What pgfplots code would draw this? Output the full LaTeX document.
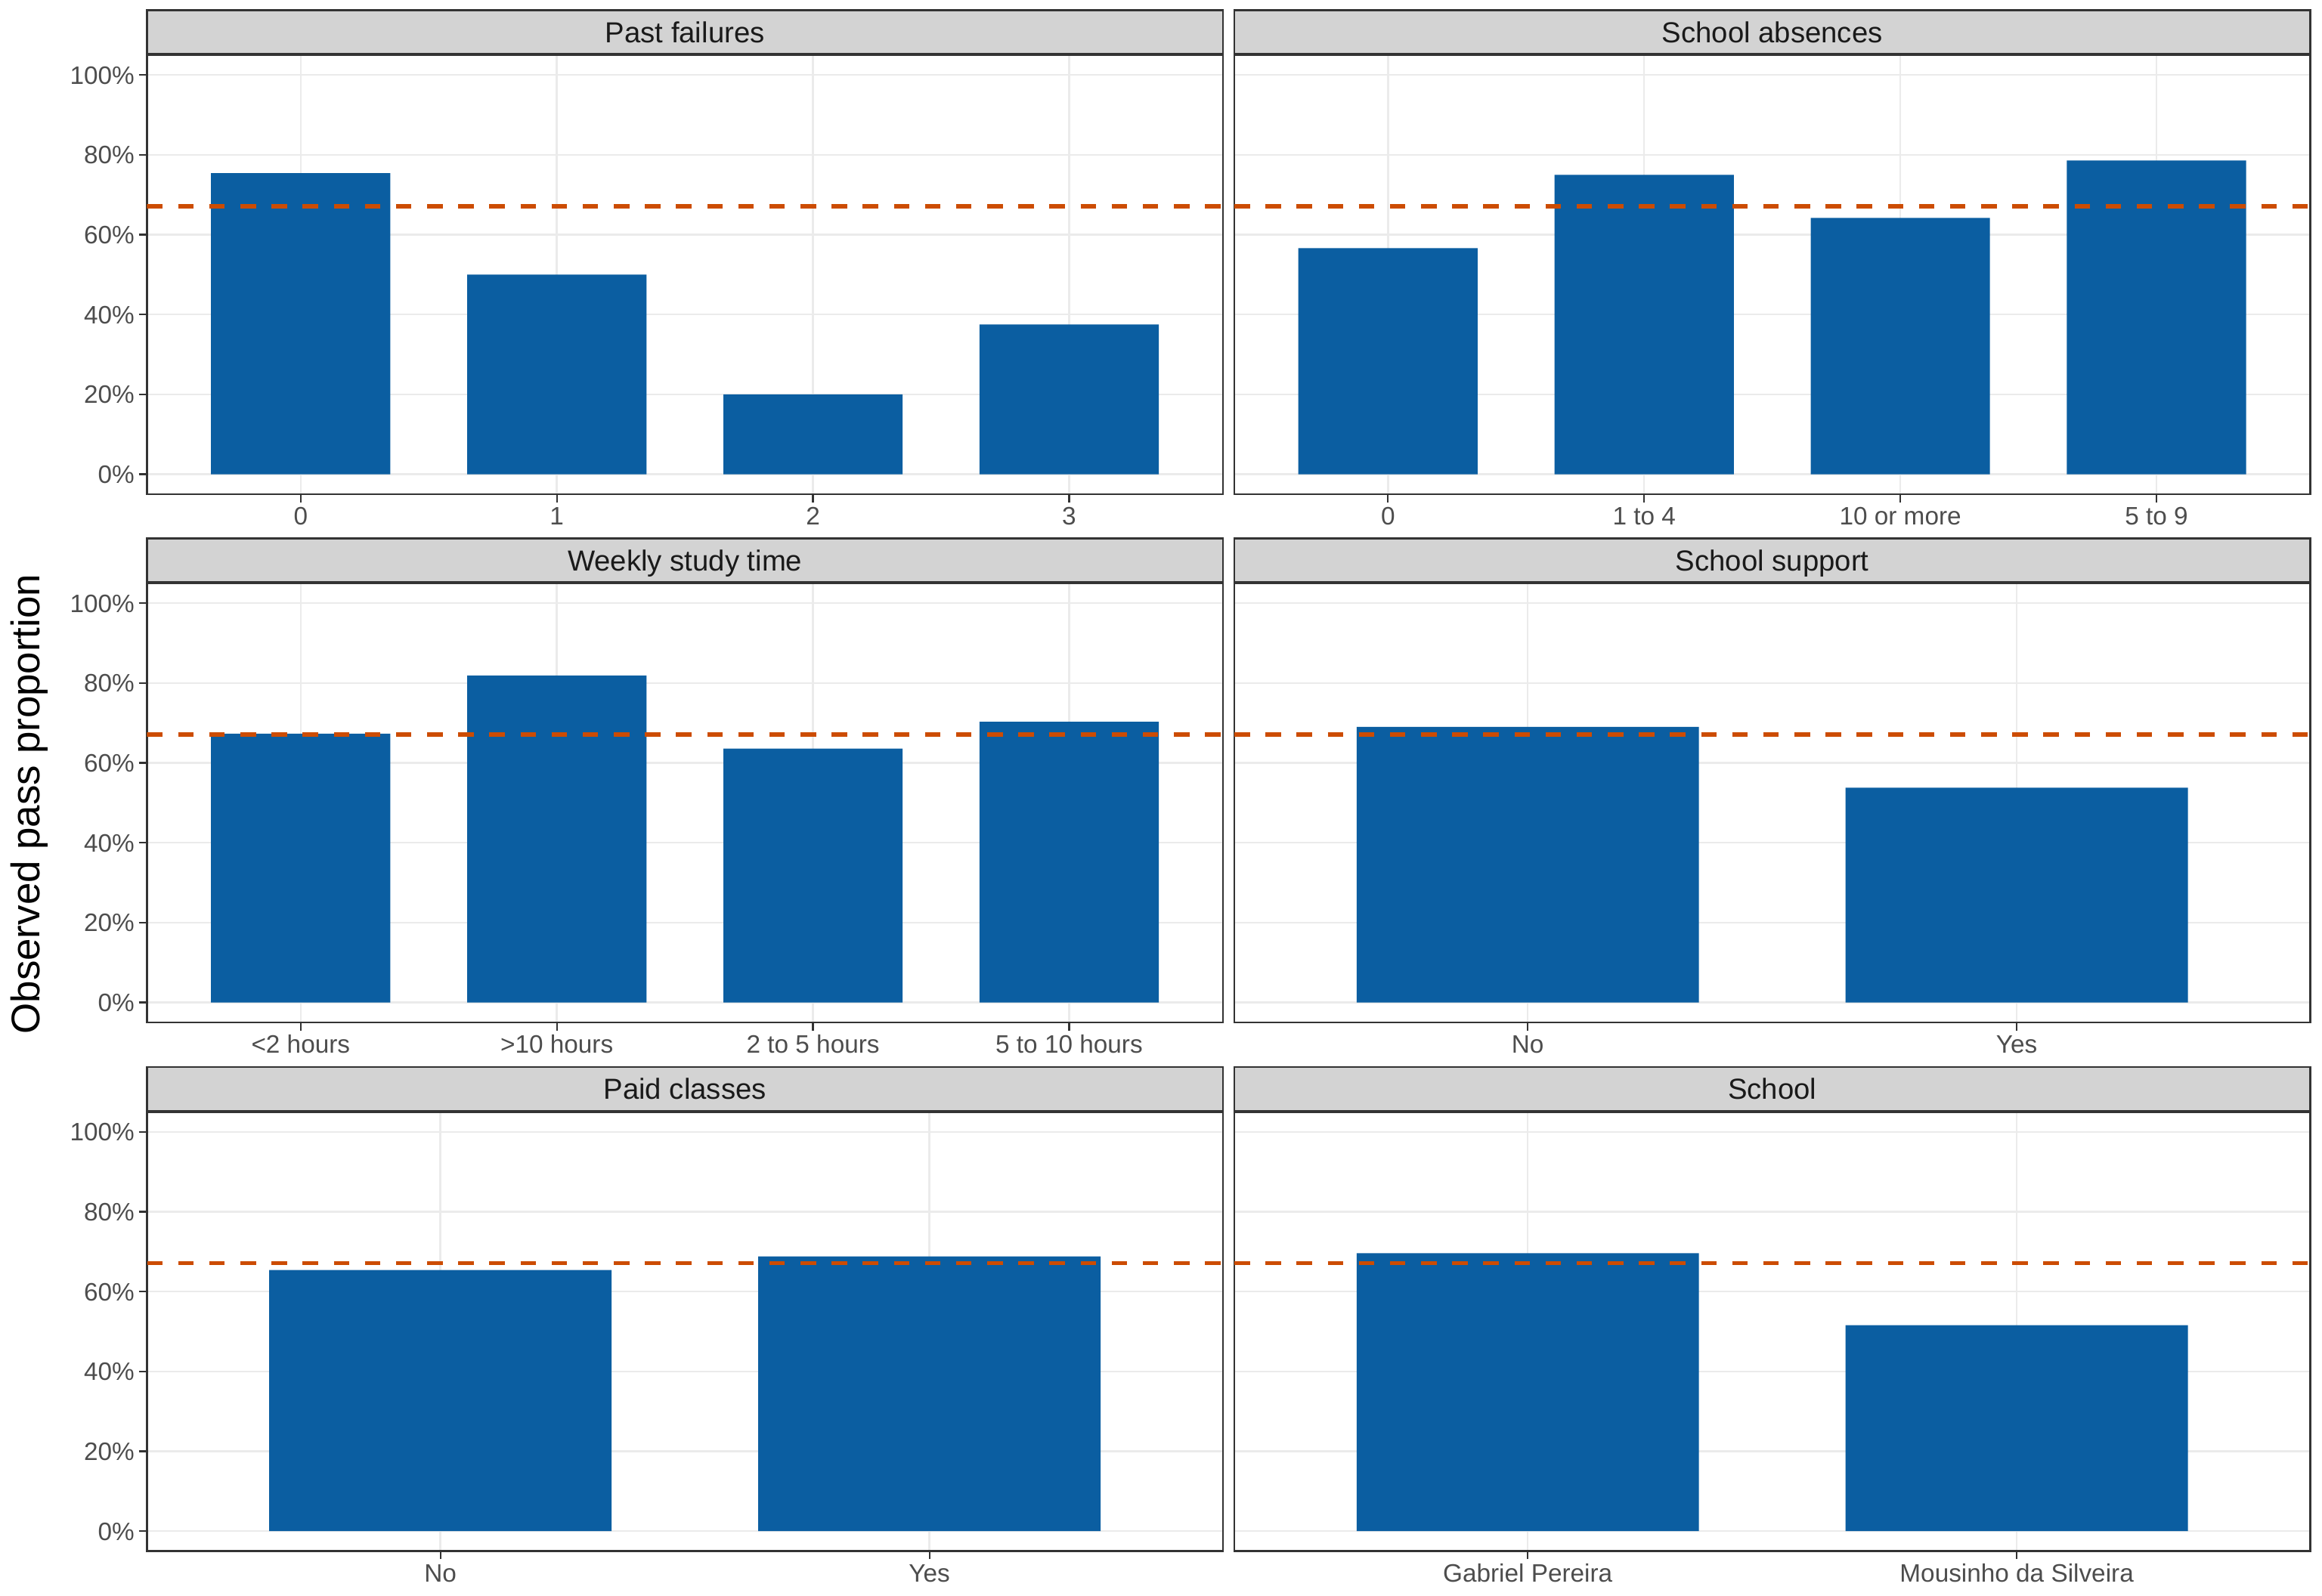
\documentclass[border=0pt]{standalone}
\usepackage{pgfplots}
\pgfplotsset{compat=1.18}
\usepackage{fontspec}
\setmainfont{Liberation Sans}
\definecolor{barblue}{HTML}{0B5EA1}
\definecolor{refline}{HTML}{CC4C02}
\definecolor{gridc}{HTML}{EBEBEB}
\definecolor{stripfill}{HTML}{D3D3D3}
\definecolor{frame}{HTML}{333333}
\definecolor{ticktext}{HTML}{4D4D4D}
\definecolor{striptext}{HTML}{1A1A1A}
\pgfplotsset{
  every axis title/.style={at={(0.5,1)}, anchor=south, fill=stripfill, draw=frame, line width=0.55bp,
      minimum width=341.6bp, minimum height=13.94bp, inner sep=0pt, text height=6.6bp, text depth=0pt,
      font=\fontsize{9.2bp}{11bp}\selectfont, text=striptext},
  facet/.style={
    scale only axis, width=341.6bp, height=139.49bp,
    ymin=-0.05, ymax=1.05, xmin=-0.6,
    ytick={0,0.2,0.4,0.6,0.8,1},
    yticklabels={0\%,20\%,40\%,60\%,80\%,100\%},
    grid=major,
    major grid style={draw=gridc, line width=0.6bp},
    axis line style={draw=frame, line width=0.55bp},
    tick style={draw=frame, line width=0.55bp},
    tick align=outside, tick pos=left,
    major tick length=2.6bp,
    tick label style={font=\fontsize{8bp}{9.6bp}\selectfont, text=ticktext, inner sep=0pt, text height=5.73bp, text depth=0pt},
    xticklabel style={yshift=-1.3bp},
    yticklabel style={xshift=-1.2bp},
  },
  four/.style={xmax=3.6, xtick={0,1,2,3}},
  two/.style={xmax=1.6, xtick={0,1}},
  nolab/.style={yticklabels={}, ytick style={draw=none}},
  bars/.style={ybar, bar width=0.7, fill=barblue, draw=none},
  hline/.style={refline, line width=1.25bp, dash pattern=on 4.94bp off 4.94bp},
}
\begin{document}
\begin{tikzpicture}
\useasboundingbox (0,0) rectangle (737.28bp,506.88bp);
% Row 1
\begin{axis}[facet, four, at={(46.68bp,349.92bp)}, anchor=south west,
  title={Past failures}, xticklabels={0,1,2,3}]
\addplot[bars] coordinates {(0,0.754) (1,0.500) (2,0.200) (3,0.375)};
\addplot[hline] coordinates {(-0.6,0.671) (3.6,0.671)};
\end{axis}
\begin{axis}[facet, four, nolab, at={(391.92bp,349.92bp)}, anchor=south west,
  title={School absences}, xticklabels={0,1 to 4,10 or more,5 to 9}]
\addplot[bars] coordinates {(0,0.566) (1,0.750) (2,0.642) (3,0.786)};
\addplot[hline] coordinates {(-0.6,0.671) (3.6,0.671)};
\end{axis}
% Row 2
\begin{axis}[facet, four, at={(46.68bp,182.16bp)}, anchor=south west,
  title={Weekly study time}, xticklabels={<2 hours,>10 hours,2 to 5 hours,5 to 10 hours}]
\addplot[bars] coordinates {(0,0.673) (1,0.819) (2,0.636) (3,0.703)};
\addplot[hline] coordinates {(-0.6,0.671) (3.6,0.671)};
\end{axis}
\begin{axis}[facet, two, nolab, at={(391.92bp,182.16bp)}, anchor=south west,
  title={School support}, xticklabels={No,Yes}]
\addplot[bars] coordinates {(0,0.690) (1,0.538)};
\addplot[hline] coordinates {(-0.6,0.671) (1.6,0.671)};
\end{axis}
% Row 3
\begin{axis}[facet, two, at={(46.68bp,14.26bp)}, anchor=south west,
  title={Paid classes}, xticklabels={No,Yes}]
\addplot[bars] coordinates {(0,0.654) (1,0.688)};
\addplot[hline] coordinates {(-0.6,0.671) (1.6,0.671)};
\end{axis}
\begin{axis}[facet, two, nolab, at={(391.92bp,14.26bp)}, anchor=south west,
  title={School}, xticklabels={Gabriel Pereira,Mousinho da Silveira}]
\addplot[bars] coordinates {(0,0.696) (1,0.516)};
\addplot[hline] coordinates {(-0.6,0.671) (1.6,0.671)};
\end{axis}
\node[rotate=90, font=\fontsize{12.7bp}{15bp}\selectfont, text=black, inner sep=0pt, text height=9.1bp, text depth=0pt]
  at (8.06bp,251.5bp) {Observed pass proportion};
\end{tikzpicture}
\end{document}
